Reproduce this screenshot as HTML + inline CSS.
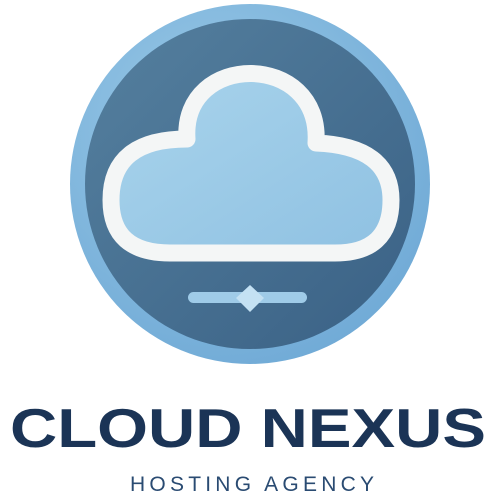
<!DOCTYPE html>
<html><head><style>
html,body{margin:0;padding:0;background:#fff;}
svg{display:block;}
</style></head><body>
<svg width="500" height="500" viewBox="0 0 500 500" xmlns="http://www.w3.org/2000/svg">
<defs>
<radialGradient id="ring" cx="0.4" cy="0.35" r="0.7">
<stop offset="0" stop-color="#9ccbe8"/><stop offset="1" stop-color="#70aad6"/>
</radialGradient>
<linearGradient id="inner" x1="0" y1="0" x2="1" y2="1">
<stop offset="0" stop-color="#55809f"/><stop offset="1" stop-color="#3a6185"/>
</linearGradient>
<linearGradient id="cloud" x1="0" y1="0" x2="1" y2="1">
<stop offset="0" stop-color="#a9d4ec"/><stop offset="1" stop-color="#8fc1e2"/>
</linearGradient>
</defs>
<circle cx="250" cy="184" r="180" fill="url(#ring)"/>
<circle cx="250" cy="184" r="165" fill="url(#inner)"/>
<path d="M170 253 L335 253 Q391 253 391 200 Q391 146 316 143 C322 51 181 51 187 139 Q111 139 111 200 Q111 253 170 253 Z" fill="url(#cloud)" stroke="#f4f6f6" stroke-width="17" stroke-linejoin="round"/>
<rect x="188" y="292" width="119" height="11" rx="5.5" fill="#9fcbe8"/>
<polygon points="250,285 264,298 250,312 236,298" fill="#c4e1f3"/>
<text x="248" y="447" text-anchor="middle" font-family="Liberation Sans, sans-serif" font-weight="bold" font-size="55" fill="#1b3456" textLength="476" lengthAdjust="spacingAndGlyphs">CLOUD NEXUS</text>
<text x="252" y="491" text-anchor="middle" font-family="Liberation Sans, sans-serif" font-size="21" fill="#2a4b72" textLength="244" lengthAdjust="spacing">HOSTING AGENCY</text>
</svg>
</body></html>
